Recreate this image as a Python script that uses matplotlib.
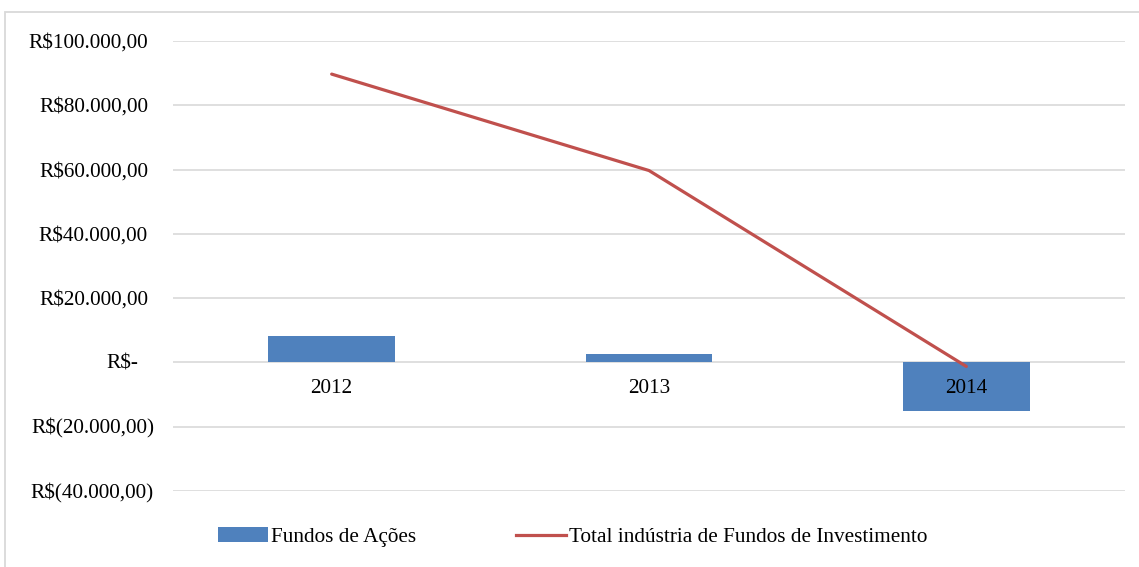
import matplotlib
matplotlib.use("Agg")
import matplotlib.pyplot as plt
from matplotlib.patches import Rectangle, Patch
from matplotlib.lines import Line2D
import matplotlib.transforms as mtransforms

# data
years = ["2012", "2013", "2014"]
fundos_acoes = [8100, 2500, -15000]
total_industria = [89700, 59700, -1250]
y_ticks = [100000, 80000, 60000, 40000, 20000, 0, -20000, -40000]
y_labels = ["R$100.000,00", "R$80.000,00", "R$60.000,00", "R$40.000,00",
            "R$20.000,00", "R$-", "R$(20.000,00)", "R$(40.000,00)"]
legend_labels = ["Fundos de Ações", "Total indústria de Fundos de Investimento"]

BLUE = "#4f81bd"
RED = "#c0504d"
GRID = "#d9d9d9"
FS = 15.3

plt.rcParams["font.family"] = ["Liberation Serif", "DejaVu Serif"]

W, H = 1139, 567
fig = plt.figure(figsize=(W / 100, H / 100), dpi=100)

# chart frame (cut at right and bottom in the reference)
fig.patches.append(Rectangle((5 / W, -0.2), 1.5, 1.2 - 12 / H,
                             transform=fig.transFigure, fill=False,
                             edgecolor=GRID, linewidth=1.3))

ax = fig.add_axes([173 / W, (H - 491) / H, (1125 - 173) / W, 450 / H])
x = list(range(len(years)))

ax.bar(x, fundos_acoes, width=0.40, color=BLUE, zorder=2)
ax.plot(x, total_industria, color=RED, linewidth=2.3, zorder=3,
        solid_capstyle="round")

ax.set_xlim(-0.5, len(years) - 0.5)
ax.set_ylim(min(y_ticks), max(y_ticks))
for t in y_ticks:
    ax.axhline(t, color=GRID, linewidth=1.2, zorder=1)

ax.set_xticks([])
ax.set_yticks([])
for s in ax.spines.values():
    s.set_visible(False)

# y labels, accounting-style alignment
blend = mtransforms.blended_transform_factory(ax.transAxes, ax.transData)
for t, lab in zip(y_ticks, y_labels):
    if t > 0:
        off = -25
    elif t == 0:
        off = -35
    else:
        off = -19
    tr = blend + mtransforms.ScaledTranslation(off / 100, -2 / 100, fig.dpi_scale_trans)
    ax.text(0, t, lab, transform=tr, ha="right", va="center", fontsize=FS)

# category labels just under the zero line
for xi, yr in zip(x, years):
    tr = ax.transData + mtransforms.ScaledTranslation(0, -31 / 100, fig.dpi_scale_trans)
    ax.text(xi, 0, yr, transform=tr, ha="center", va="baseline",
            fontsize=FS, zorder=5)

handles = [Patch(facecolor=BLUE, edgecolor="none"),
           Line2D([], [], color=RED, linewidth=2.3)]
fig.legend(handles, legend_labels, loc="center left",
           bbox_to_anchor=(218 / W, 1 - 537 / H), ncol=2, frameon=False,
           fontsize=FS, handlelength=2.35, handletextpad=0.15,
           columnspacing=4.7, borderpad=0, borderaxespad=0)

fig.savefig("out.png", dpi=100)
